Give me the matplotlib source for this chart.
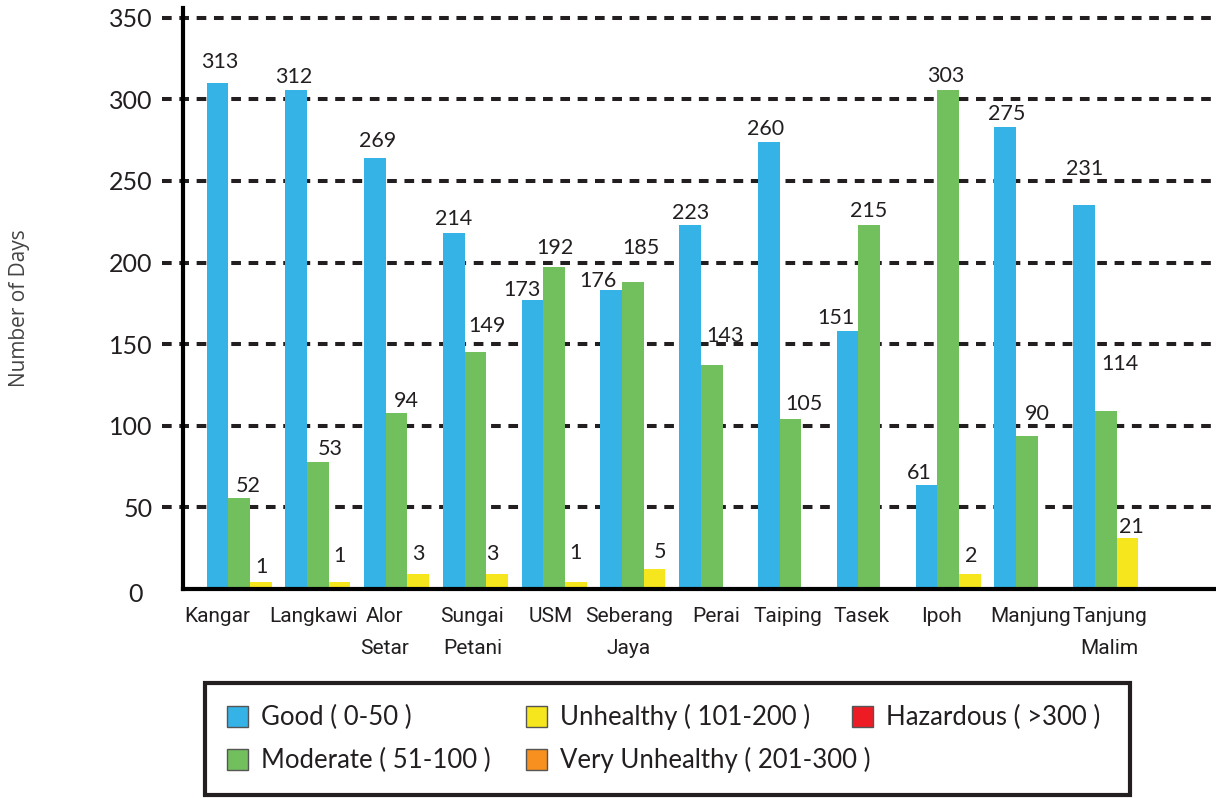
import matplotlib
matplotlib.use("Agg")
import matplotlib.pyplot as plt
from matplotlib.patches import Rectangle
from matplotlib.transforms import ScaledTranslation
import numpy as np

# ---------------- data ----------------
stations = ["Kangar", "Langkawi", "Alor\nSetar", "Sungai\nPetani", "USM", "Seberang\nJaya",
            "Perai", "Taiping", "Tasek", "Ipoh", "Manjung", "Tanjung\nMalim"]
# bar heights as drawn in the picture
good_days = [310, 306, 264, 218, 177, 183, 223, 274, 158, 64, 283, 235]
moderate_days = [56, 78, 108, 145, 197, 188, 137, 104, 223, 306, 94, 109]
unhealthy_days = [4, 4, 9, 9, 4, 12, 0, 0, 0, 9, 0, 31]
# value labels as printed on the picture
good_labels = ["313", "312", "269", "214", "173", "176", "223", "260", "151", "61", "275", "231"]
moderate_labels = ["52", "53", "94", "149", "192", "185", "143", "105", "215", "303", "90", "114"]
unhealthy_labels = ["1", "1", "3", "3", "1", "5", "", "", "", "2", "", "21"]
yticks = [0, 50, 100, 150, 200, 250, 300, 350]
legend_labels = ["Good ( 0-50 )", "Moderate ( 51-100 )", "Unhealthy ( 101-200 )",
                 "Very Unhealthy ( 201-300 )", "Hazardous ( >300 )"]

# ---------------- style ----------------
c_good = "#35b3e6"
c_mod = "#72bf5e"
c_unh = "#f5e61e"
c_vunh = "#f7901e"
c_haz = "#ed1c24"
ink = "#231f20"

# label offsets (pixels) : dx, gap above bar top
good_dx = [2, -2, 3, 0, -11, -13, 1, -3, -12, -7, 1, 1]
good_gap = [15, 7, 11, 8, 4, 3, 6, 7, 7, 6, 7, 30]
mod_dx = [9, 12, 10, 12, 1, 8, 13, 13, -1, -2, 10, 14]
mod_gap = [6, 7, 6, 20, 13, 28, 23, 9, 8, 8, 16, 41]
unh_dx = [1, 0, 0, -5, 0, 5, 0, 0, 0, 1, 0, 4]
unh_gap = [9, 20, 14, 14, 23, 11, 0, 0, 0, 12, 0, 5]
# horizontal shift of station names (pixels)
xlab_dx = [-22, -4, -12, -3, -3, -4, 4, -3, -8, -7, 4, 4]

W, H = 1216, 798
fig = plt.figure(figsize=(W / 100, H / 100), dpi=100)
fig.patch.set_facecolor("white")

ax_left, ax_right = 183, 1216
ax_top, ax_bot = 8, 589
ax = fig.add_axes([ax_left / W, (H - ax_bot) / H, (ax_right - ax_left) / W, (ax_bot - ax_top) / H])

x = np.arange(len(stations))
bw = 0.275
ax.bar(x - bw, good_days, bw, color=c_good, zorder=3)
ax.bar(x, moderate_days, bw, color=c_mod, zorder=3)
ax.bar(x + bw, unhealthy_days, bw, color=c_unh, zorder=3)

ax.set_xlim(-0.711, 12.40)
ax.set_ylim(0, 356)

# dashed gridlines (extend a little left of the axis)
for yv in yticks[1:]:
    ax.plot([-0.02, 1.0], [yv, yv], transform=ax.get_yaxis_transform(), clip_on=False,
            color=ink, lw=2.9, linestyle=(0, (2.4, 1.9)), zorder=2,
            dash_capstyle="butt")

num_font = dict(family=["Lato", "DejaVu Sans"], fontsize=15.5, color=ink)


def label_bars(xpos, heights, labels, dxs, gaps):
    for xi, h, lab, dx, gp in zip(xpos, heights, labels, dxs, gaps):
        if lab == "":
            continue
        ax.annotate(lab, xy=(xi, h), xytext=(dx, gp), textcoords="offset pixels",
                    ha="center", va="baseline", zorder=5, **num_font)


label_bars(x - bw, good_days, good_labels, good_dx, good_gap)
label_bars(x, moderate_days, moderate_labels, mod_dx, mod_gap)
label_bars(x + bw, unhealthy_days, unhealthy_labels, unh_dx, unh_gap)

# spines
for s in ["top", "right"]:
    ax.spines[s].set_visible(False)
for s in ["left", "bottom"]:
    ax.spines[s].set_linewidth(3.0)
    ax.spines[s].set_color("black")
    ax.spines[s].set_zorder(6)

ax.set_yticks(yticks)
ax.set_yticklabels([str(v) for v in yticks], family=["Lato", "DejaVu Sans"], fontsize=18,
                   color=ink)
ax.tick_params(axis="y", length=0, pad=22)
# the "0" label sits a little lower/left in the reference
ax.get_yticklabels()[0].set_transform(ax.get_yticklabels()[0].get_transform() +
                                      ScaledTranslation(-0.10, -0.04, fig.dpi_scale_trans))

ax.set_xticks(x)
ax.set_xticklabels(stations, family=["Roboto", "DejaVu Sans"], fontsize=15,
                   color=ink, linespacing=1.85)
ax.tick_params(axis="x", length=0, pad=13)
for lab, dx in zip(ax.get_xticklabels(), xlab_dx):
    lab.set_transform(lab.get_transform() + ScaledTranslation(dx / 100, 0, fig.dpi_scale_trans))

fig.text(20 / W, 1 - 308 / H, "Number of Days", rotation=90, ha="center", va="center",
         family=["Open Sans", "DejaVu Sans"], fontsize=15, color="#444444")

# legend box (manual layout)
fig.patches.append(Rectangle((205 / W, (H - 795) / H), (1130 - 205) / W, (795 - 683) / H,
                             transform=fig.transFigure, fill=False, edgecolor=ink, lw=3.0))
leg_colors = [c_good, c_mod, c_unh, c_vunh, c_haz]
leg_pos = [(227, 717), (227, 760), (526, 717), (526, 760), (852, 717)]
for lab, col, (px, py) in zip(legend_labels, leg_colors, leg_pos):
    fig.patches.append(Rectangle((px / W, (H - py - 10) / H), 21 / W, 21 / H,
                                 transform=fig.transFigure, facecolor=col, edgecolor="#555555", lw=1.0))
    fig.text((px + 34) / W, (H - py) / H, lab, ha="left", va="center",
             family=["Lato", "DejaVu Sans"], fontsize=18.5, color=ink)

fig.savefig("out.png", dpi=100, facecolor="white")
